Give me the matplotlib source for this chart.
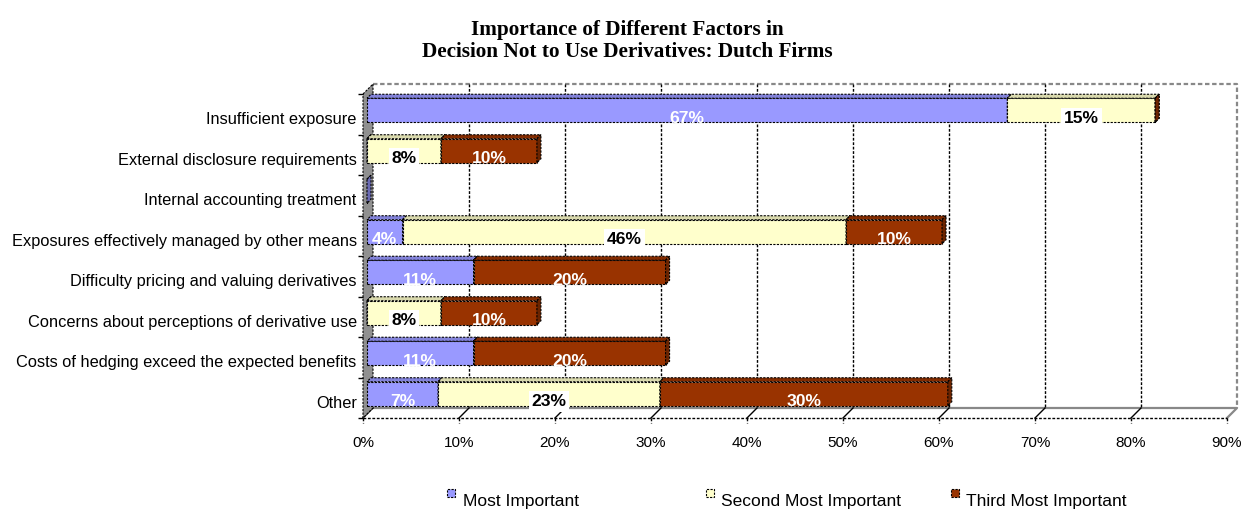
import numpy as np
import matplotlib
matplotlib.use('Agg')
import matplotlib.pyplot as plt
from matplotlib.patches import Polygon, Rectangle
import matplotlib.colors as mcolors

plt.rcParams['font.family'] = ['Liberation Sans', 'DejaVu Sans']

# data, top to bottom
categories = ['Insufficient exposure',
              'External disclosure requirements',
              'Internal accounting treatment',
              'Exposures effectively managed by other means',
              'Difficulty pricing and valuing derivatives',
              'Concerns about perceptions of derivative use',
              'Costs of hedging exceed the expected benefits',
              'Other']
most_important = [66.7, 0, 0, 3.7, 11.1, 0, 11.1, 7.4]
second_important = [15.4, 7.7, 0, 46.2, 0, 7.7, 0, 23.1]
third_important = [0, 10, 0, 10, 20, 10, 20, 30]
series_names = ['Most Important', 'Second Most Important', 'Third Most Important']
xticks = [0, 10, 20, 30, 40, 50, 60, 70, 80, 90]

colors = ['#9999FF', '#FFFFCC', '#993300']
label_colors = ['white', 'black', 'white']


def shade(c, f):
    r, g, b = mcolors.to_rgb(c)
    return (r * f, g * f, b * f)


W, H = 1249, 512
fig = plt.figure(figsize=(W / 100, H / 100), dpi=100)
ax = fig.add_axes([363 / W, 1 - 418 / H, 864 / W, 324 / H])
ax.set_xlim(0, 90)
ax.set_ylim(8, 0)
for s in ax.spines.values():
    s.set_visible(False)

PX = 90 / 864.0   # x units per pixel
PY = 8 / 324.0    # y units per pixel
DX, DY = 10 * PX, -10 * PY   # wall depth
dash = (0, (2, 1.2))

# back wall
ax.add_patch(Polygon([(DX, DY), (90 + DX, DY), (90 + DX, 8 + DY), (DX, 8 + DY)],
                     closed=True, facecolor='white', edgecolor='none', zorder=0))
ax.plot([DX, 90 + DX, 90 + DX], [DY, DY, 8 + DY], color='#888888', lw=1.6,
        linestyle=dash, zorder=1, clip_on=False)
ax.plot([DX, 90 + DX, 90], [8 + DY, 8 + DY, 8], color='#888888', lw=1.6, zorder=1, clip_on=False)
for t in xticks[1:-1]:
    ax.plot([t + DX, t + DX], [DY, 8 + DY], color='black', lw=1, linestyle=dash, zorder=1, clip_on=False)
for t in xticks[:-1]:
    ax.plot([t + DX, t], [8 + DY, 8], color='black', lw=1, zorder=1, clip_on=False)
for t in xticks:
    ax.plot([t, t], [8, 8 + 5 * PY], color='black', lw=1, linestyle=dash, clip_on=False, zorder=1)
ax.plot([0, 90], [8, 8], color='black', lw=1, linestyle=dash, zorder=1, clip_on=False)

# left wall
ax.add_patch(Polygon([(0, 0), (DX, DY), (DX, 8 + DY), (0, 8)], closed=True,
                     facecolor='#909090', edgecolor='black', lw=0.8, linestyle=dash,
                     zorder=1, clip_on=False))

# bars
fx, fy = 4 * PX, -4 * PY      # bar offset from front plane
bx, by = 4 * PX, -4 * PY      # bar depth
half = 12 * PY
series = [most_important, second_important, third_important]
for i, cat in enumerate(categories):
    vals = [s[i] for s in series]
    yc = i + 0.5 + fy
    y0, y1 = yc - half, yc + half
    left = 0.0
    for k, v in enumerate(vals):
        if sum(vals) == 0 and k > 0:
            continue
        x0, x1 = left + fx, left + v + fx
        kw = dict(closed=True, edgecolor='black', lw=0.8, linestyle=dash, zorder=3, clip_on=False)
        ax.add_patch(Polygon([(x0, y1), (x1, y1), (x1, y0), (x0, y0)],
                             facecolor=colors[k], **kw))
        ax.add_patch(Polygon([(x0, y0), (x1, y0), (x1 + bx, y0 + by), (x0 + bx, y0 + by)],
                             facecolor=shade(colors[k], 0.85), **kw))
        ax.add_patch(Polygon([(x1, y0), (x1 + bx, y0 + by), (x1 + bx, y1 + by), (x1, y1)],
                             facecolor=shade(colors[k], 0.7), **kw))
        if v > 0:
            bbox = dict(facecolor='white', edgecolor='none', pad=2) if k == 1 else None
            ax.text((x0 + x1) / 2, y1 + 0.5 * PY, '%d%%' % round(v), ha='center', va='baseline',
                    fontsize=12.6, fontweight='bold', color=label_colors[k], bbox=bbox, zorder=4)
        left += v

# axes ticks
ax.set_xticks(xticks)
ax.set_xticklabels(['%d%%' % t for t in xticks], fontsize=11)
ax.tick_params(axis='x', length=0, pad=13)
ax.set_yticks(np.arange(0, 9))
ax.set_yticklabels([])
ax.tick_params(axis='y', which='major', length=3.6, width=1, color='black')
ax.set_yticks(np.arange(len(categories)) + 0.5 + 4 * PY, minor=True)
ax.set_yticklabels(categories, minor=True, fontsize=11.8)
ax.tick_params(axis='y', which='minor', length=0, pad=4.5)

# title
fig.text(627 / W, 1 - 30 / H, 'Importance of Different Factors in', ha='center', va='center',
         fontsize=15.3, fontweight='bold', family='Liberation Serif')
fig.text(627 / W, 1 - 52 / H, 'Decision Not to Use Derivatives: Dutch Firms', ha='center', va='center',
         fontsize=15.3, fontweight='bold', family='Liberation Serif')

# legend
sq_x = [447, 706, 951]
tx_x = [463, 721, 966]
for k, name in enumerate(series_names):
    fig.patches.append(Rectangle((sq_x[k] / W, 1 - 497 / H), 8 / W, 8 / H, transform=fig.transFigure,
                                 facecolor=colors[k], edgecolor='black', lw=0.8, linestyle=dash))
    fig.text(tx_x[k] / W, 1 - 506 / H, name, ha='left', va='baseline', fontsize=12.5)

fig.savefig('out.png', dpi=100)
